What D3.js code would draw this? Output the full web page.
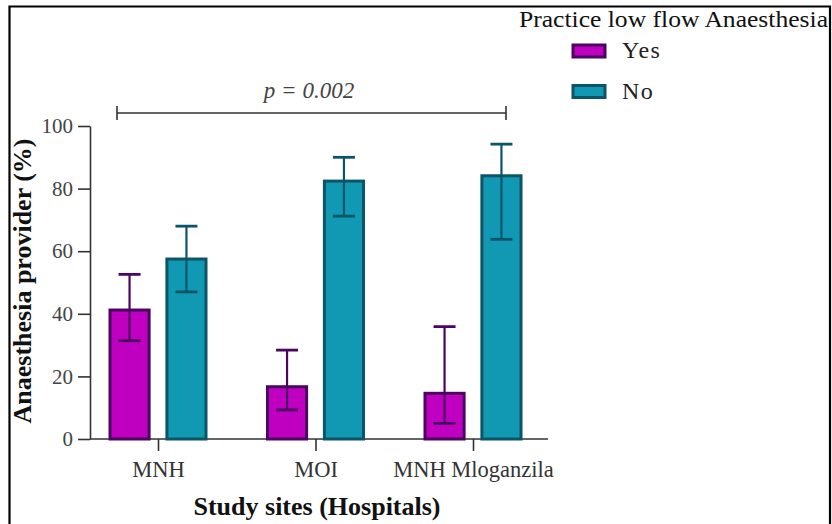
<!DOCTYPE html>
<html>
<head>
<meta charset="utf-8">
<script src="https://cdn.jsdelivr.net/npm/d3@7"></script>
<style>
  body { margin: 0; background: #fff; }
  text { font-family: "Liberation Serif", "Times New Roman", serif; }
</style>
</head>
<body>
<script>
var WIDTH = 832, HEIGHT = 524;

// data
var sites = ["MNH", "MOI", "MNH Mloganzila"];
var groups = ["Yes", "No"];
var yesValues = [41.2, 16.7, 14.6];
var yesLow = [31.4, 9.3, 5.0];
var yesHigh = [52.6, 28.4, 35.9];
var noValues = [57.5, 82.4, 84.1];
var noLow = [47.0, 71.2, 63.8];
var noHigh = [68.0, 90.0, 94.2];
var yTicks = [0, 20, 40, 60, 80, 100];
var pText = "p = 0.002";
var legendTitle = "Practice low flow Anaesthesia";

var fills = {Yes: "#c000c0", No: "#1199b4"};
var strokes = {Yes: "#4a0562", No: "#0c5468"};

var rows = [];
sites.forEach(function(s, i){
	rows.push({site: s, group: "Yes", v: yesValues[i], lo: yesLow[i], hi: yesHigh[i]});
	rows.push({site: s, group: "No", v: noValues[i], lo: noLow[i], hi: noHigh[i]});
});

var svg = d3.select("body").append("svg")
	.attr("width", WIDTH)
	.attr("height", HEIGHT);

// frame
svg.append("path")
	.attr("d", "M9.5,524 V6.5 H830 V524")
	.attr("fill", "none")
	.attr("stroke", "#000")
	.attr("stroke-width", 2.2);

var yScale = d3.scaleLinear().domain([0, 100]).range([439, 126]);
var xScale = d3.scalePoint().domain(sites).range([158, 473]);
var subScale = d3.scaleBand().domain(groups).range([-49.5, 49.5]).paddingInner(0.26);

// y axis
var yAxis = svg.append("g")
	.attr("transform", "translate(90,0)")
	.call(d3.axisLeft(yScale).tickValues(yTicks).tickSize(12).tickSizeOuter(0).tickPadding(5));
yAxis.select(".domain").attr("stroke", "#333").attr("stroke-width", 1.6);
yAxis.selectAll(".tick line").attr("stroke", "#333").attr("stroke-width", 1.6);
yAxis.selectAll(".tick text")
	.attr("font-size", 21)
	.attr("fill", "#444");

// x axis
var xAxis = svg.append("g")
	.attr("transform", "translate(0,439)")
	.call(d3.axisBottom(xScale).tickSize(12).tickPadding(10));
xAxis.select(".domain").remove();
xAxis.append("line")
	.attr("x1", 90).attr("x2", 548)
	.attr("stroke", "#333").attr("stroke-width", 1.6);
xAxis.selectAll(".tick line").attr("stroke", "#333").attr("stroke-width", 1.6);
xAxis.selectAll(".tick text")
	.attr("font-size", 22.5)
	.attr("fill", "#333");

// bars
var g = svg.append("g").classed("bars", true);
g.selectAll("rect").data(rows)
	.enter()
	.append("rect")
	.attr("x", function(d){ return xScale(d.site) + subScale(d.group) + 1.5; })
	.attr("y", function(d){ return yScale(d.v); })
	.attr("width", subScale.bandwidth() - 3)
	.attr("height", function(d){ return yScale(0) - yScale(d.v); })
	.attr("fill", function(d){ return fills[d.group]; })
	.attr("stroke", function(d){ return strokes[d.group]; })
	.attr("stroke-width", 3);

// error bars
var eb = svg.append("g").selectAll("g").data(rows).enter().append("g")
	.attr("stroke", function(d){ return strokes[d.group]; })
	.attr("transform", function(d){ return "translate(" + (xScale(d.site) + subScale(d.group) + subScale.bandwidth() / 2) + ",0)"; });
eb.append("line")
	.attr("stroke-width", 2.2)
	.attr("y1", function(d){ return yScale(d.lo); })
	.attr("y2", function(d){ return yScale(d.hi); });
eb.append("line")
	.attr("stroke-width", 2.8)
	.attr("x1", -11).attr("x2", 11)
	.attr("y1", function(d){ return yScale(d.hi); })
	.attr("y2", function(d){ return yScale(d.hi); });
eb.append("line")
	.attr("stroke-width", 2.8)
	.attr("x1", -11).attr("x2", 11)
	.attr("y1", function(d){ return yScale(d.lo); })
	.attr("y2", function(d){ return yScale(d.lo); });

// significance bracket
var br = svg.append("g").attr("stroke", "#333").attr("stroke-width", 1.6);
br.append("line").attr("x1", 117).attr("x2", 506).attr("y1", 113).attr("y2", 113);
br.append("line").attr("x1", 117).attr("x2", 117).attr("y1", 106).attr("y2", 120);
br.append("line").attr("x1", 506).attr("x2", 506).attr("y1", 106).attr("y2", 120);
svg.append("text")
	.attr("x", 309).attr("y", 98)
	.attr("text-anchor", "middle")
	.attr("font-style", "italic")
	.attr("font-size", 23)
	.attr("fill", "#444")
	.text(pText);

// axis titles
svg.append("text")
	.attr("x", 317).attr("y", 515)
	.attr("text-anchor", "middle")
	.attr("font-weight", "bold")
	.attr("font-size", 26)
	.attr("fill", "#111")
	.text("Study sites (Hospitals)");
svg.append("text")
	.attr("transform", "translate(31,281) rotate(-90)")
	.attr("text-anchor", "middle")
	.attr("font-weight", "bold")
	.attr("font-size", 26)
	.attr("fill", "#111")
	.text("Anaesthesia provider (%)");

// legend
svg.append("text")
	.attr("x", 519).attr("y", 27)
	.attr("font-size", 23)
	.attr("textLength", 309)
	.attr("lengthAdjust", "spacingAndGlyphs")
	.attr("fill", "#111")
	.text(legendTitle);
var lg = svg.append("g").selectAll("g").data(groups).enter().append("g")
	.attr("transform", function(d, i){ return "translate(573," + (45 + i * 40.5) + ")"; });
lg.append("rect")
	.attr("width", 32).attr("height", 12)
	.attr("fill", function(d){ return fills[d]; })
	.attr("stroke", function(d){ return strokes[d]; })
	.attr("stroke-width", 3);
lg.append("text")
	.attr("x", 49).attr("y", 13)
	.attr("font-size", 24)
	.attr("letter-spacing", 1.5)
	.attr("fill", "#222")
	.text(function(d){ return d; });
</script>
</body>
</html>
